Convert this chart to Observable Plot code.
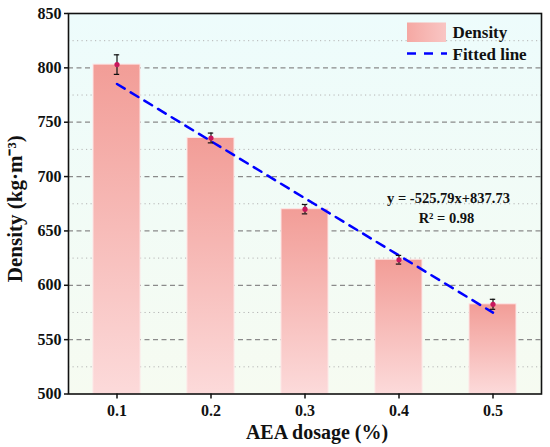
<!DOCTYPE html>
<html>
<head>
<meta charset="utf-8">
<script src="https://cdn.jsdelivr.net/npm/d3@7"></script>
<script src="https://cdn.jsdelivr.net/npm/@observablehq/plot@0.6"></script>
<style>
  html, body { margin: 0; padding: 0; background: #fff; }
  #chart { width: 550px; height: 447px; }
</style>
</head>
<body>
<div id="chart"></div>
<script>
// ---- data ----
const dosage = ["0.1", "0.2", "0.3", "0.4", "0.5"];
const density = [803, 735.5, 670, 623.5, 582.5];
const errors = [9, 4.5, 4.3, 4, 4.6];
const fitted = [785.15, 732.57, 680.0, 627.41, 574.84];
const yTicks = [500, 550, 600, 650, 700, 750, 800, 850];
const gridMajor = [550, 600, 650, 700, 750, 800];
const gridMinor = [525, 575, 625, 675, 725, 775, 825];
const legendItems = ["Density", "Fitted line"];
const equation = "y = -525.79x+837.73";
const r2 = "R\u00B2 = 0.98";

const rows = dosage.map((d, i) => ({
  x: d, y: density[i], lo: density[i] - errors[i], hi: density[i] + errors[i], fit: fitted[i]
}));

const font = "'Liberation Serif', 'Times New Roman', serif";

function defsMark() {
  const g = d3.create("svg:g");
  const defs = g.append("defs");
  const bar = defs.append("linearGradient").attr("id", "barGrad")
    .attr("x1", 0).attr("y1", 0).attr("x2", 0).attr("y2", 1);
  bar.append("stop").attr("offset", "0%").attr("stop-color", "#f29d97");
  bar.append("stop").attr("offset", "100%").attr("stop-color", "#fcdada");
  const bg = defs.append("linearGradient").attr("id", "bgGrad")
    .attr("x1", 0).attr("y1", 0).attr("x2", 0).attr("y2", 1);
  bg.append("stop").attr("offset", "0%").attr("stop-color", "#edfcfc");
  bg.append("stop").attr("offset", "100%").attr("stop-color", "#f6fbf1");
  const sw = defs.append("linearGradient").attr("id", "swGrad")
    .attr("x1", 0).attr("y1", 0).attr("x2", 1).attr("y2", 0);
  sw.append("stop").attr("offset", "0%").attr("stop-color", "#f5a8a3");
  sw.append("stop").attr("offset", "100%").attr("stop-color", "#f9c6c4");
  return g.node();
}

function legendMark(index, scales, values, dims) {
  const right = dims.width - dims.marginRight;
  const top = dims.marginTop;
  const x0 = right - 134;
  const g = d3.create("svg:g").attr("font-family", font).attr("font-weight", "bold")
    .attr("text-anchor", "start");
  g.append("rect").attr("x", x0).attr("y", top + 9.5).attr("width", 39).attr("height", 19.5)
    .attr("fill", "url(#swGrad)");
  g.append("text").attr("x", x0 + 45.5).attr("y", top + 19).attr("dy", "0.35em")
    .attr("font-size", 17).attr("fill", "#111").text(legendItems[0]);
  g.append("line").attr("x1", x0).attr("x2", x0 + 40).attr("y1", top + 40.5).attr("y2", top + 40.5)
    .attr("stroke", "#0000ff").attr("stroke-width", 2.5).attr("stroke-dasharray", "9,8");
  g.append("text").attr("x", x0 + 45.5).attr("y", top + 41).attr("dy", "0.35em")
    .attr("font-size", 17).attr("fill", "#111").text(legendItems[1]);
  return g.node();
}

const chart = Plot.plot({
  width: 550,
  height: 447,
  marginLeft: 68,
  marginRight: 9,
  marginTop: 13,
  marginBottom: 53.5,
  style: { fontFamily: font, fontWeight: "bold", fontSize: "16px", color: "#111", background: "#fff" },
  x: { type: "band", domain: dosage, paddingInner: 0.5, paddingOuter: 0.25 },
  y: { domain: [500, 850] },
  marks: [
    defsMark,
    Plot.frame({ fill: "url(#bgGrad)" }),
    Plot.ruleY(gridMinor, { stroke: "#b5b5b5", strokeWidth: 1, strokeDasharray: "1.2,3.3" }),
    Plot.ruleY(gridMajor, { stroke: "#8a8a8a", strokeWidth: 1.2, strokeDasharray: "5,3.5" }),
    Plot.barY(rows, { x: "x", y1: 500, y2: "y", fill: "url(#barGrad)", stroke: "#fde6e6", strokeWidth: 1 }),
    Plot.line(rows, { x: "x", y: "fit", stroke: "#0000ff", strokeWidth: 2.5, strokeDasharray: "9,7" }),
    Plot.ruleX(rows, { x: "x", y1: "lo", y2: "hi", stroke: "#111", strokeWidth: 1.2 }),
    Plot.tickY(rows, { x: "x", y: "lo", stroke: "#111", strokeWidth: 1.2, insetLeft: 20.8, insetRight: 20.8 }),
    Plot.tickY(rows, { x: "x", y: "hi", stroke: "#111", strokeWidth: 1.2, insetLeft: 20.8, insetRight: 20.8 }),
    Plot.dot(rows, { x: "x", y: "y", r: 2.6, fill: "#c8175d", stroke: "none" }),
    Plot.text([equation], { frameAnchor: "top-right", dx: -93, dy: 179, textAnchor: "middle", fontSize: 14.5, fill: "#111" }),
    Plot.text([r2], { frameAnchor: "top-right", dx: -95, dy: 199, textAnchor: "middle", fontSize: 14.5, fill: "#111" }),
    legendMark,
    Plot.axisY({ ticks: yTicks, tickSize: 4, tickPadding: 3, tickFormat: d => String(d), label: null, fontSize: 16, strokeWidth: 1.5 }),
    Plot.axisX({ tickSize: 5, tickPadding: 6, label: null, fontSize: 16, strokeWidth: 1.5 }),
    Plot.text(["AEA dosage (%)"], { frameAnchor: "bottom", dx: 12, dy: 45, textAnchor: "middle", fontSize: 20, fill: "#111" }),
    Plot.text(["Density (kg\u00B7m\u207B\u00B3)"], { frameAnchor: "left", dx: -53, dy: 5, rotate: -90, textAnchor: "middle", fontSize: 21, fill: "#111" }),
    Plot.frame({ stroke: "#111", strokeWidth: 1.6 })
  ]
});

document.getElementById("chart").appendChild(chart);
</script>
</body>
</html>
